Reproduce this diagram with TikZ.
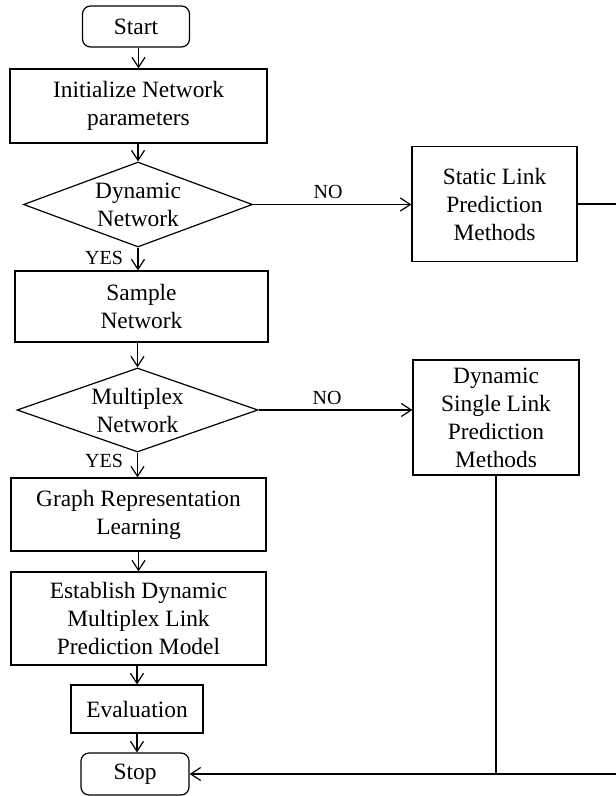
\documentclass[tikz,border=0pt]{standalone}
\usepackage{fontspec}
\setmainfont{Liberation Serif}
\usetikzlibrary{arrows.meta,shapes.geometric}
\begin{document}
\begin{tikzpicture}[x=0.5pt,y=-0.5pt,
  line width=0.6pt,
  box/.style={draw, line width=0.6pt, align=center, inner sep=0pt,
    font=\fontsize{11.7}{14}\selectfont},
  term/.style={box, rounded corners=4pt},
  dec/.style={draw, diamond, line width=0.6pt, inner sep=0pt},
  dectext/.style={align=center, inner sep=0pt, font=\fontsize{11.7}{14}\selectfont},
  lbl/.style={inner sep=0pt, font=\fontsize{10}{12}\selectfont},
  arr/.style={-{Straight Barb[length=5pt,width=6.5pt,line width=0.6pt]}}
]
\useasboundingbox (0,0) rectangle (615,796);

\node[term, minimum width=53.5pt, minimum height=20.5pt] (start) at (136,26.5) {Start};
\node[box, minimum width=128.5pt, minimum height=37pt] (init) at (138.5,106) {Initialize Network\\parameters};
\node[dec, minimum width=114.5pt, minimum height=42.5pt] (dia1) at (138,204.5) {};
\node[dectext] (dia1t) at (dia1.center) {Dynamic\\Network};
\node[box, minimum width=82.5pt, minimum height=57.5pt] (static) at (494.5,204) {Static Link\\Prediction\\Methods};
\node[box, minimum width=126.5pt, minimum height=35.5pt] (sample) at (141.5,306.5) {Sample\\Network};
\node[dec, minimum width=120.5pt, minimum height=42pt] (dia2) at (137.5,410) {};
\node[dectext] (dia2t) at (dia2.center) {Multiplex\\Network};
\node[box, minimum width=83pt, minimum height=57.5pt] (dyn) at (496,417.5) {Dynamic\\Single Link\\Prediction\\Methods};
\node[box, minimum width=127.5pt, minimum height=36.5pt] (graph) at (138.5,514.5) {Graph Representation\\Learning};
\node[box, minimum width=127.5pt, minimum height=46.5pt] (est) at (138.5,618.5) {Establish Dynamic\\Multiplex Link\\Prediction Model};
\node[box, minimum width=66pt, minimum height=24pt] (eval) at (137,709) {Evaluation};
\node[term, minimum width=54pt, minimum height=21pt] (stop) at (135,774) {Stop};

\node[lbl] (no1) at (328,192) {NO};
\node[lbl] (yes1) at (104,258) {YES};
\node[lbl] (no2) at (327,398) {NO};
\node[lbl] (yes2) at (104,461) {YES};

\coordinate (rc) at (640,204);

\draw[arr] (init.north |- start.south) -- (init.north);
\draw[arr] (dia1.north |- init.south) -- (dia1.north);
\draw[arr] (dia1.south) -- (dia1.south |- sample.north);
\draw[arr] (dia1.east) -- (static.west |- dia1.east);
\draw[arr] (dia2.north |- sample.south) -- (dia2.north);
\draw[arr] (dia2.east) -- (dyn.west |- dia2.east);
\draw[arr] (dia2.south) -- (dia2.south |- graph.north);
\draw[arr] (est.north |- graph.south) -- (est.north);
\draw[arr] (eval.north |- est.south) -- (eval.north);
\draw[arr] (eval.south) -- (eval.south |- stop.north);
\draw (static.east) -- (rc);
\draw[arr] (rc) |- (stop.east);
\draw (dyn.south) -- (dyn.south |- stop.east);
\end{tikzpicture}
\end{document}
